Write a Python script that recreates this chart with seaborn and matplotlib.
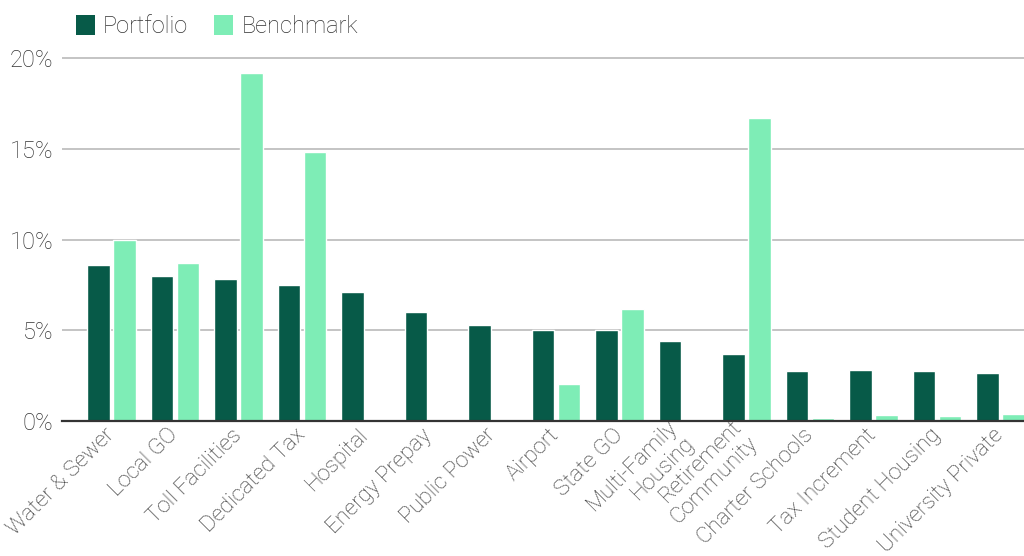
import matplotlib
matplotlib.use("Agg")
import matplotlib.pyplot as plt
from matplotlib.patches import Patch
from matplotlib.ticker import PercentFormatter
import pandas as pd
import seaborn as sns

# Sector allocation (% of market value)
sectors = [
    "Water & Sewer", "Local GO", "Toll Facilities", "Dedicated Tax", "Hospital",
    "Energy Prepay", "Public Power", "Airport", "State GO", "Multi-Family\nHousing",
    "Retirement\nCommunity", "Charter Schools", "Tax Increment", "Student Housing",
    "University Private",
]
portfolio = [8.6, 8.0, 7.85, 7.5, 7.1, 6.0, 5.3, 5.0, 5.0, 4.4, 3.7, 2.75, 2.8, 2.75, 2.65]
benchmark = [10.0, 8.7, 19.15, 14.8, 0.03, 0.03, 0.07, 2.05, 6.15, 0.03, 16.7, 0.17, 0.33, 0.28, 0.4]
series_names = ["Portfolio", "Benchmark"]
colors = ["#075a48", "#7eedb6"]
yticks = [0, 5, 10, 15, 20]

df = pd.DataFrame({
    "sector": sectors * 2,
    "weight": portfolio + benchmark,
    "series": [series_names[0]] * len(sectors) + [series_names[1]] * len(sectors),
})

sns.set_theme(style="white")
plt.rcParams["font.family"] = ["Roboto", "DejaVu Sans"]
text_color = "#333333"

fig = plt.figure(figsize=(10.24, 5.56), dpi=100)
ax = fig.add_axes([0.0605, 0.2428, 0.9395, 0.6594])

sns.barplot(
    data=df, x="sector", y="weight", hue="series", order=sectors,
    hue_order=series_names, palette=colors, width=0.82, gap=0.15,
    saturation=1, legend=False, ax=ax,
)

ax.set_xlim(-0.78, 14.37)
ax.set_ylim(0, 20.2)
ax.set_yticks(yticks)
ax.yaxis.set_major_formatter(PercentFormatter(decimals=0))
ax.grid(axis="y", color="#b4b4b4", linewidth=1.1)
ax.set_axisbelow(True)
for side in ["top", "right", "left"]:
    ax.spines[side].set_visible(False)
ax.spines["bottom"].set_color("#333333")
ax.spines["bottom"].set_linewidth(1.6)
ax.set_xlabel("")
ax.set_ylabel("")
ax.tick_params(axis="both", length=0, colors=text_color)
ax.tick_params(axis="y", pad=6, labelsize=17)
ax.tick_params(axis="x", pad=8, labelsize=16)
for lbl in ax.get_yticklabels():
    lbl.set_fontweight("light")
for lbl in ax.get_xticklabels():
    lbl.set_rotation(45)
    lbl.set_ha("right")
    lbl.set_va("center")
    lbl.set_rotation_mode("anchor")
    lbl.set_multialignment("right")
    lbl.set_fontweight("light")
    lbl.set_linespacing(1.15)

handles = [Patch(facecolor=c, edgecolor="none", label=n) for c, n in zip(colors, series_names)]
leg = fig.legend(
    handles=handles, loc="upper left", bbox_to_anchor=(0.0593, 1.0), ncol=2,
    frameon=False, fontsize=17, handlelength=0.8, handleheight=0.9,
    handletextpad=0.35, columnspacing=1.1, borderaxespad=0.25,
)
for t in leg.get_texts():
    t.set_color(text_color)
    t.set_fontweight("light")

fig.savefig("out.png", dpi=100, facecolor="white")
